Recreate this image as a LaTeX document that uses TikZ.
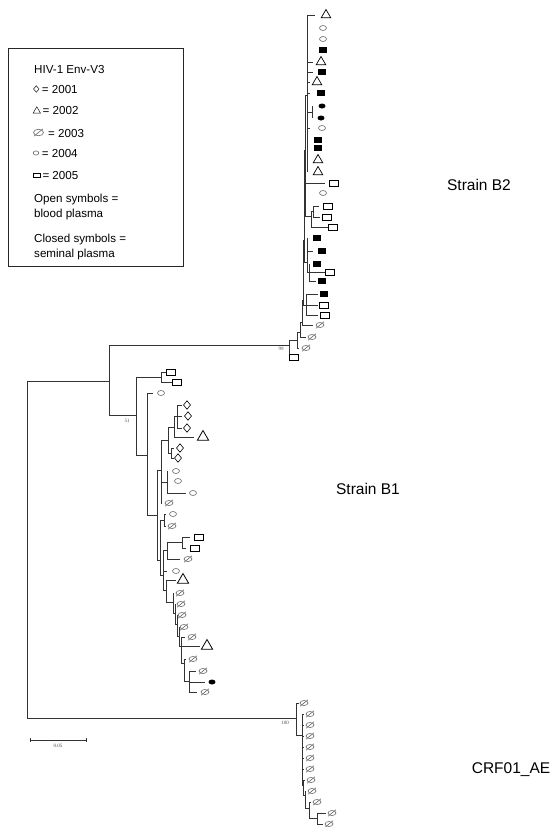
\documentclass[tikz,border=0pt]{standalone}
\usepackage{fontspec}
\setmainfont{Liberation Sans}
\newfontfamily\bsfont{Liberation Serif}
\usetikzlibrary{shapes.geometric}
\tikzset{
  br/.style={draw=black!80, line width=0.8pt},
  symb/.style={inner sep=0pt, outer sep=0pt, line width=0.6pt},
  dia/.style={symb, diamond, draw=black, minimum width=7pt, minimum height=8.5pt},
  tri/.style={symb, regular polygon, regular polygon sides=3, draw=black, minimum size=11pt, line width=0.7pt},
  trib/.style={symb, regular polygon, regular polygon sides=3, draw=black, minimum size=13pt, line width=0.8pt},
  nul/.style={symb, ellipse, draw=black!60, minimum width=8pt, minimum height=5pt,
    append after command={([shift={(-1pt,-1.4pt)}]\tikzlastnode.south west) edge[draw=black!60, line width=0.6pt] ([shift={(1pt,1.4pt)}]\tikzlastnode.north east)}},
  circ/.style={symb, ellipse, draw=black!60, minimum width=7pt, minimum height=5pt},
  sq/.style={symb, rectangle, draw=black, minimum width=9pt, minimum height=6pt},
  fsq/.style={symb, rectangle, fill=black, minimum width=8pt, minimum height=5.5pt},
  fci/.style={symb, ellipse, fill=black, minimum width=7pt, minimum height=5pt},
  lgtext/.style={anchor=base west, inner sep=0pt, font=\fontsize{11.6pt}{14pt}\selectfont},
  clade/.style={inner sep=0pt, font=\fontsize{15.5pt}{17pt}\selectfont},
  boot/.style={inner sep=0pt, font=\bsfont\fontsize{5pt}{6pt}\selectfont, text=black!70},
  lgsym/.style={line width=0.45pt}
}
\begin{document}
\begin{tikzpicture}[x=1pt,y=-1pt]
\useasboundingbox (0,0) rectangle (552,827);
% internal nodes
\foreach \n/\x/\y in {root/27/550, N109/109/381, Q0/289/345, Q1/297/340, Q2/300/332, Q3/302/322,
  Q4/303/300, Q5/304/240, Q6/305/150, P1/307/95, Pn/312/112, C3/311/216, C3a/313/211,
  C4/307/262, C4b/309/272, C5/306/305, B1r/136/415, Ba/161/377, Bb/147/455, Bc/157/515,
  Cup/161/470, D1/168/440, D2/174/427, E1/177/416, D3/171/453, D4/167/482, Clow/160/560,
  Ee/164/520, F/163/575, G/167/550, G1/182/542, Bg/166/590, Bh/173/602, Bi/175/613,
  Bj/177/624, Bk/179/636, Bl/181/646, Bm/184/663, Bn/189/681, CR/296/718, K1/302/735,
  K2/303/785, K3/305/795, K4/309/808, K5/317/818}
  {\coordinate (\n) at (\x,\y);}
% internal branches
\foreach \p/\c in {root/N109, root/CR, N109/Q0, N109/B1r, Q0/Q1, Q1/Q2, Q2/Q3, Q3/Q4,
  Q4/Q5, Q4/C5, Q5/Q6, Q5/C4, Q6/P1, Q6/C3, P1/Pn, C3/C3a, C4/C4b, B1r/Ba, B1r/Bb,
  Bb/Bc, Bc/Cup, Bc/Clow, Cup/D1, Cup/D4, D1/D2, D1/D3, D2/E1, Clow/Ee, Clow/F, F/G,
  F/Bg, G/G1, Bg/Bh, Bh/Bi, Bi/Bj, Bj/Bk, Bk/Bl, Bl/Bm, Bm/Bn, CR/K1, K1/K2, K2/K3,
  K3/K4, K4/K5}
  {\draw[br] (\p) |- (\c);}
% leaves
\foreach \n/\p/\tx/\y/\sx/\st in {
  a1/P1/315/15/326/tri, a2/P1/307/28/323/circ, a3/P1/307/39/323/circ, a4/P1/307/50/323/fsq,
  a5/P1/313/62/321/tri, a6/P1/313/72/322/fsq, a7/P1/310/82/317/tri, a8/P1/310/93/321/fsq,
  a9/Pn/312/106/322/fci, a10/Pn/312/118/321/fci, a11/P1/310/128/322/circ, a12/P1/307/140/318/fsq,
  a13/P1/307/148/318/fsq, a14/P1/307/160/318/tri, a15/P1/307/172/318/tri, a16/Q6/325/183/334/sq,
  a17/Q6/305/193/323/circ, a18/C3a/319/206/328/sq, a19/C3a/320/217/327/sq, a20/C3/328/227/333/sq,
  a21/C4/307/238/317/fsq, a22/C4/313/251/322/fsq, a23/C4b/309/264/317/fsq, a24/C4b/325/272/330/sq,
  a25/C4b/316/281/322/fsq, a26/C5/318/294/324/fsq, a27/C5/318/305/324/sq, a28/C5/318/315/325/sq,
  a29/Q3/313/325/320/nul, a30/Q2/306/337/312/nul, a31/Q1/299/348/306/nul, a32/Q0/290/357/294/sq,
  b1/Ba/167/372/171/sq, b2/Ba/173/382/177/sq, b3/Bb/153/393/161/circ, b4/E1/182/405/187/dia,
  b5/E1/182/416/188/dia, b6/E1/182/428/187/dia, b7/D2/194/437/203/trib, b8/D3/174/448/180/dia,
  b9/D3/174/458/178/dia, b10/D4/167/471/176/circ, b11/D4/167/481/178/circ, b12/D4/186/493/193/circ,
  b13/Cup/162/503/169/nul, b14/Ee/166/514/173/circ, b15/Ee/166/526/172/nul, b16/G1/190/537/199/sq,
  b17/G1/186/548/195/sq, b18/G/180/559/188/nul, b19/F/167/571/176/circ, b20/Bg/176/580/183/trib,
  b21/Bh/174/593/180/nul, b22/Bi/175/604/181/nul, b23/Bj/177/615/182/nul, b24/Bk/179/627/184/nul,
  b25/Bl/185/637/192/nul, b26/Bl/200/646/207/trib, b27/Bm/186/659/193/nul, b28/Bn/196/671/203/nul,
  b29/Bn/205/682/212/fci, b30/Bn/197/692/205/nul,
  c1/CR/299/703/304/nul, c2/K1/304/714/310/nul, c3/K1/304/725/310/nul, c4/K1/304/736/310/nul,
  c5/K1/304/747/310/nul, c6/K1/304/758/310/nul, c7/K1/304/769/310/nul, c8/K2/305/780/311/nul,
  c9/K3/306/791/312/nul, c10/K4/311/802/317/nul, c11/K5/326/813/332/nul, c12/K5/323/824/329/nul}
  {\coordinate (t\n) at (\tx,\y);
   \draw[br] (\p) |- (t\n);
   \node[\st] (s\n) at (\sx,\y) {};}
% bootstrap values
\node[boot] (bs99) at (281,349) {99};
\node[boot] (bs51) at (127,421) {51};
\node[boot] (bs100) at (285,723) {100};
% scale bar
\coordinate (sbl) at (30,740);
\coordinate (sbr) at (86,740);
\draw[br] (sbl) -- (sbr);
\draw[br] ([yshift=2pt]sbl) -- ([yshift=-2pt]sbl);
\draw[br] ([yshift=2pt]sbr) -- ([yshift=-2pt]sbr);
\node[boot] (sblab) at (58,746) {0.05};
% clade labels
\node[clade] (lb2) at (479,185) {Strain B2};
\node[clade] (lb1) at (368,489) {Strain B1};
\node[clade] (lcrf) at (511,770) {CRF01\_AE};
% legend
\node[draw=black!85, line width=0.8pt, minimum width=175pt, minimum height=218pt, inner sep=0pt] (legend) at (95.5,157) {};
\node[lgtext] (lg0) at (34,73) {HIV-1 Env-V3};
\node[dia, lgsym, minimum width=5.5pt, minimum height=6.5pt] (ls1) at (36.3,89) {};
\node[lgtext] (lg1) at (41.7,93.2) {= 2001};
\node[tri, lgsym, minimum size=8.5pt] (ls2) at (36.8,111) {};
\node[lgtext] (lg2) at (42.5,114.2) {= 2002};
\node[nul, minimum width=10pt, minimum height=6.5pt] (ls3) at (38.5,132.5) {};
\node[lgtext] (lg3) at (48,137) {= 2003};
\node[circ, minimum width=5.7pt, minimum height=4.2pt] (ls4) at (36,153) {};
\node[lgtext] (lg4) at (41.7,157.5) {= 2004};
\node[sq, lgsym, minimum width=6.7pt, minimum height=4.5pt] (ls5) at (36.5,175) {};
\node[lgtext] (lg5) at (42.3,179.3) {= 2005};
\node[lgtext] (lg6) at (34,202.5) {Open symbols =};
\node[lgtext] (lg7) at (34,217.5) {blood plasma};
\node[lgtext] (lg8) at (34,242.5) {Closed symbols =};
\node[lgtext] (lg9) at (34,257.5) {seminal plasma};
\end{tikzpicture}
\end{document}
